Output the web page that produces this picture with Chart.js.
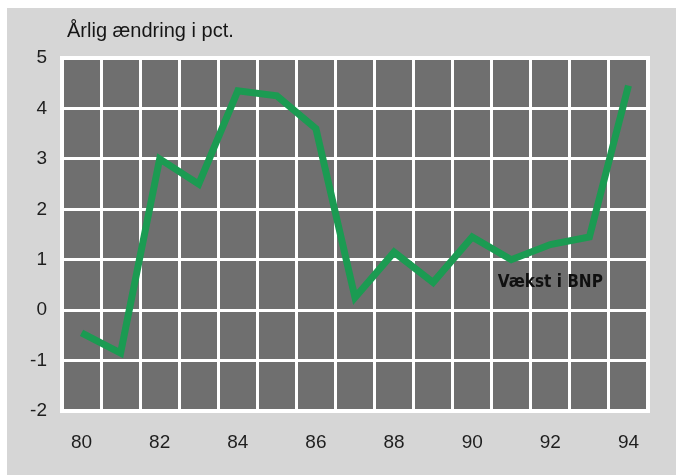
<!DOCTYPE html>
<html>
<head>
<meta charset="utf-8">
<script src="https://cdn.jsdelivr.net/npm/chart.js@4/dist/chart.umd.min.js"></script>
<style>
  html, body { margin: 0; padding: 0; background: #fff; }
  #wrap { width: 676px; height: 475px; }
</style>
</head>
<body>
<div id="wrap"><canvas id="chart" width="676" height="475"></canvas></div>
<script>
// Data
const years = ['80', '81', '82', '83', '84', '85', '86', '87', '88', '89', '90', '91', '92', '93', '94'];
const growth = [-0.45, -0.85, 3.0, 2.5, 4.35, 4.25, 3.6, 0.25, 1.15, 0.55, 1.45, 1.0, 1.3, 1.45, 4.45];
const yTicks = [-2, -1, 0, 1, 2, 3, 4, 5];

const TITLE = 'Årlig ændring i pct.';
const SERIES_LABEL = 'Vækst i BNP';

// paper, plot fill, frame and headline text
const decor = {
  id: 'decor',
  beforeDraw(chart) {
    const { ctx, chartArea: a } = chart;
    ctx.save();
    ctx.fillStyle = '#ffffff';
    ctx.fillRect(0, 0, chart.width, chart.height);
    ctx.fillStyle = '#d6d6d6';
    ctx.fillRect(7, 8, chart.width - 7, chart.height - 8);
    ctx.fillStyle = '#6f6f6f';
    ctx.fillRect(a.left, a.top, a.right - a.left, a.bottom - a.top);

    ctx.fillStyle = '#161616';
    ctx.font = '20px "Liberation Sans", Arial, sans-serif';
    ctx.textBaseline = 'alphabetic';
    ctx.textAlign = 'left';
    ctx.fillText(TITLE, 67, 37);
    ctx.restore();
  },
  beforeDatasetsDraw(chart) {
    const { ctx, chartArea: a } = chart;
    ctx.save();
    ctx.strokeStyle = '#ffffff';
    ctx.lineWidth = 4;
    ctx.strokeRect(a.left, a.top, a.right - a.left, a.bottom - a.top);
    ctx.restore();
  },
  afterDatasetsDraw(chart) {
    const { ctx, scales } = chart;
    ctx.save();
    ctx.fillStyle = '#101010';
    ctx.font = 'bold 17px "Liberation Sans Narrow", "DejaVu Sans Condensed", Arial, sans-serif';
    ctx.textAlign = 'center';
    ctx.textBaseline = 'middle';
    ctx.fillText(SERIES_LABEL, scales.x.getPixelForValue(12), scales.y.getPixelForValue(0.55));
    ctx.restore();
  }
};

new Chart(document.getElementById('chart'), {
  type: 'line',
  data: {
    labels: years,
    datasets: [{
      label: SERIES_LABEL,
      data: growth,
      borderColor: '#1b9b52',
      borderWidth: 7,
      borderJoinStyle: 'miter',
      pointRadius: 0,
      tension: 0,
      fill: false
    }]
  },
  options: {
    responsive: false,
    animation: false,
    layout: { padding: { top: 58, right: 28, left: 0, bottom: 0 } },
    plugins: {
      legend: { display: false },
      tooltip: { enabled: false },
      title: { display: false }
    },
    scales: {
      x: {
        offset: true,
        grid: { offset: true, color: '#ffffff', lineWidth: 3, drawTicks: false },
        border: { display: false },
        ticks: {
          autoSkip: false,
          maxRotation: 0,
          padding: 20,
          color: '#1e1e1e',
          font: { family: '"Liberation Sans", Arial, sans-serif', size: 19 },
          callback: (v, i) => (i % 2 === 0 ? years[i] : '')
        },
        afterFit: s => { s.height = 64; }
      },
      y: {
        min: yTicks[0],
        max: yTicks[yTicks.length - 1],
        afterBuildTicks: s => { s.ticks = yTicks.map(v => ({ value: v })); },
        grid: { color: '#ffffff', lineWidth: 3, drawTicks: false },
        border: { display: false },
        ticks: {
          padding: 15,
          color: '#1e1e1e',
          font: { family: '"Liberation Sans", Arial, sans-serif', size: 19 }
        },
        afterFit: s => { s.width = 62; }
      }
    }
  },
  plugins: [decor]
});
</script>
</body>
</html>
